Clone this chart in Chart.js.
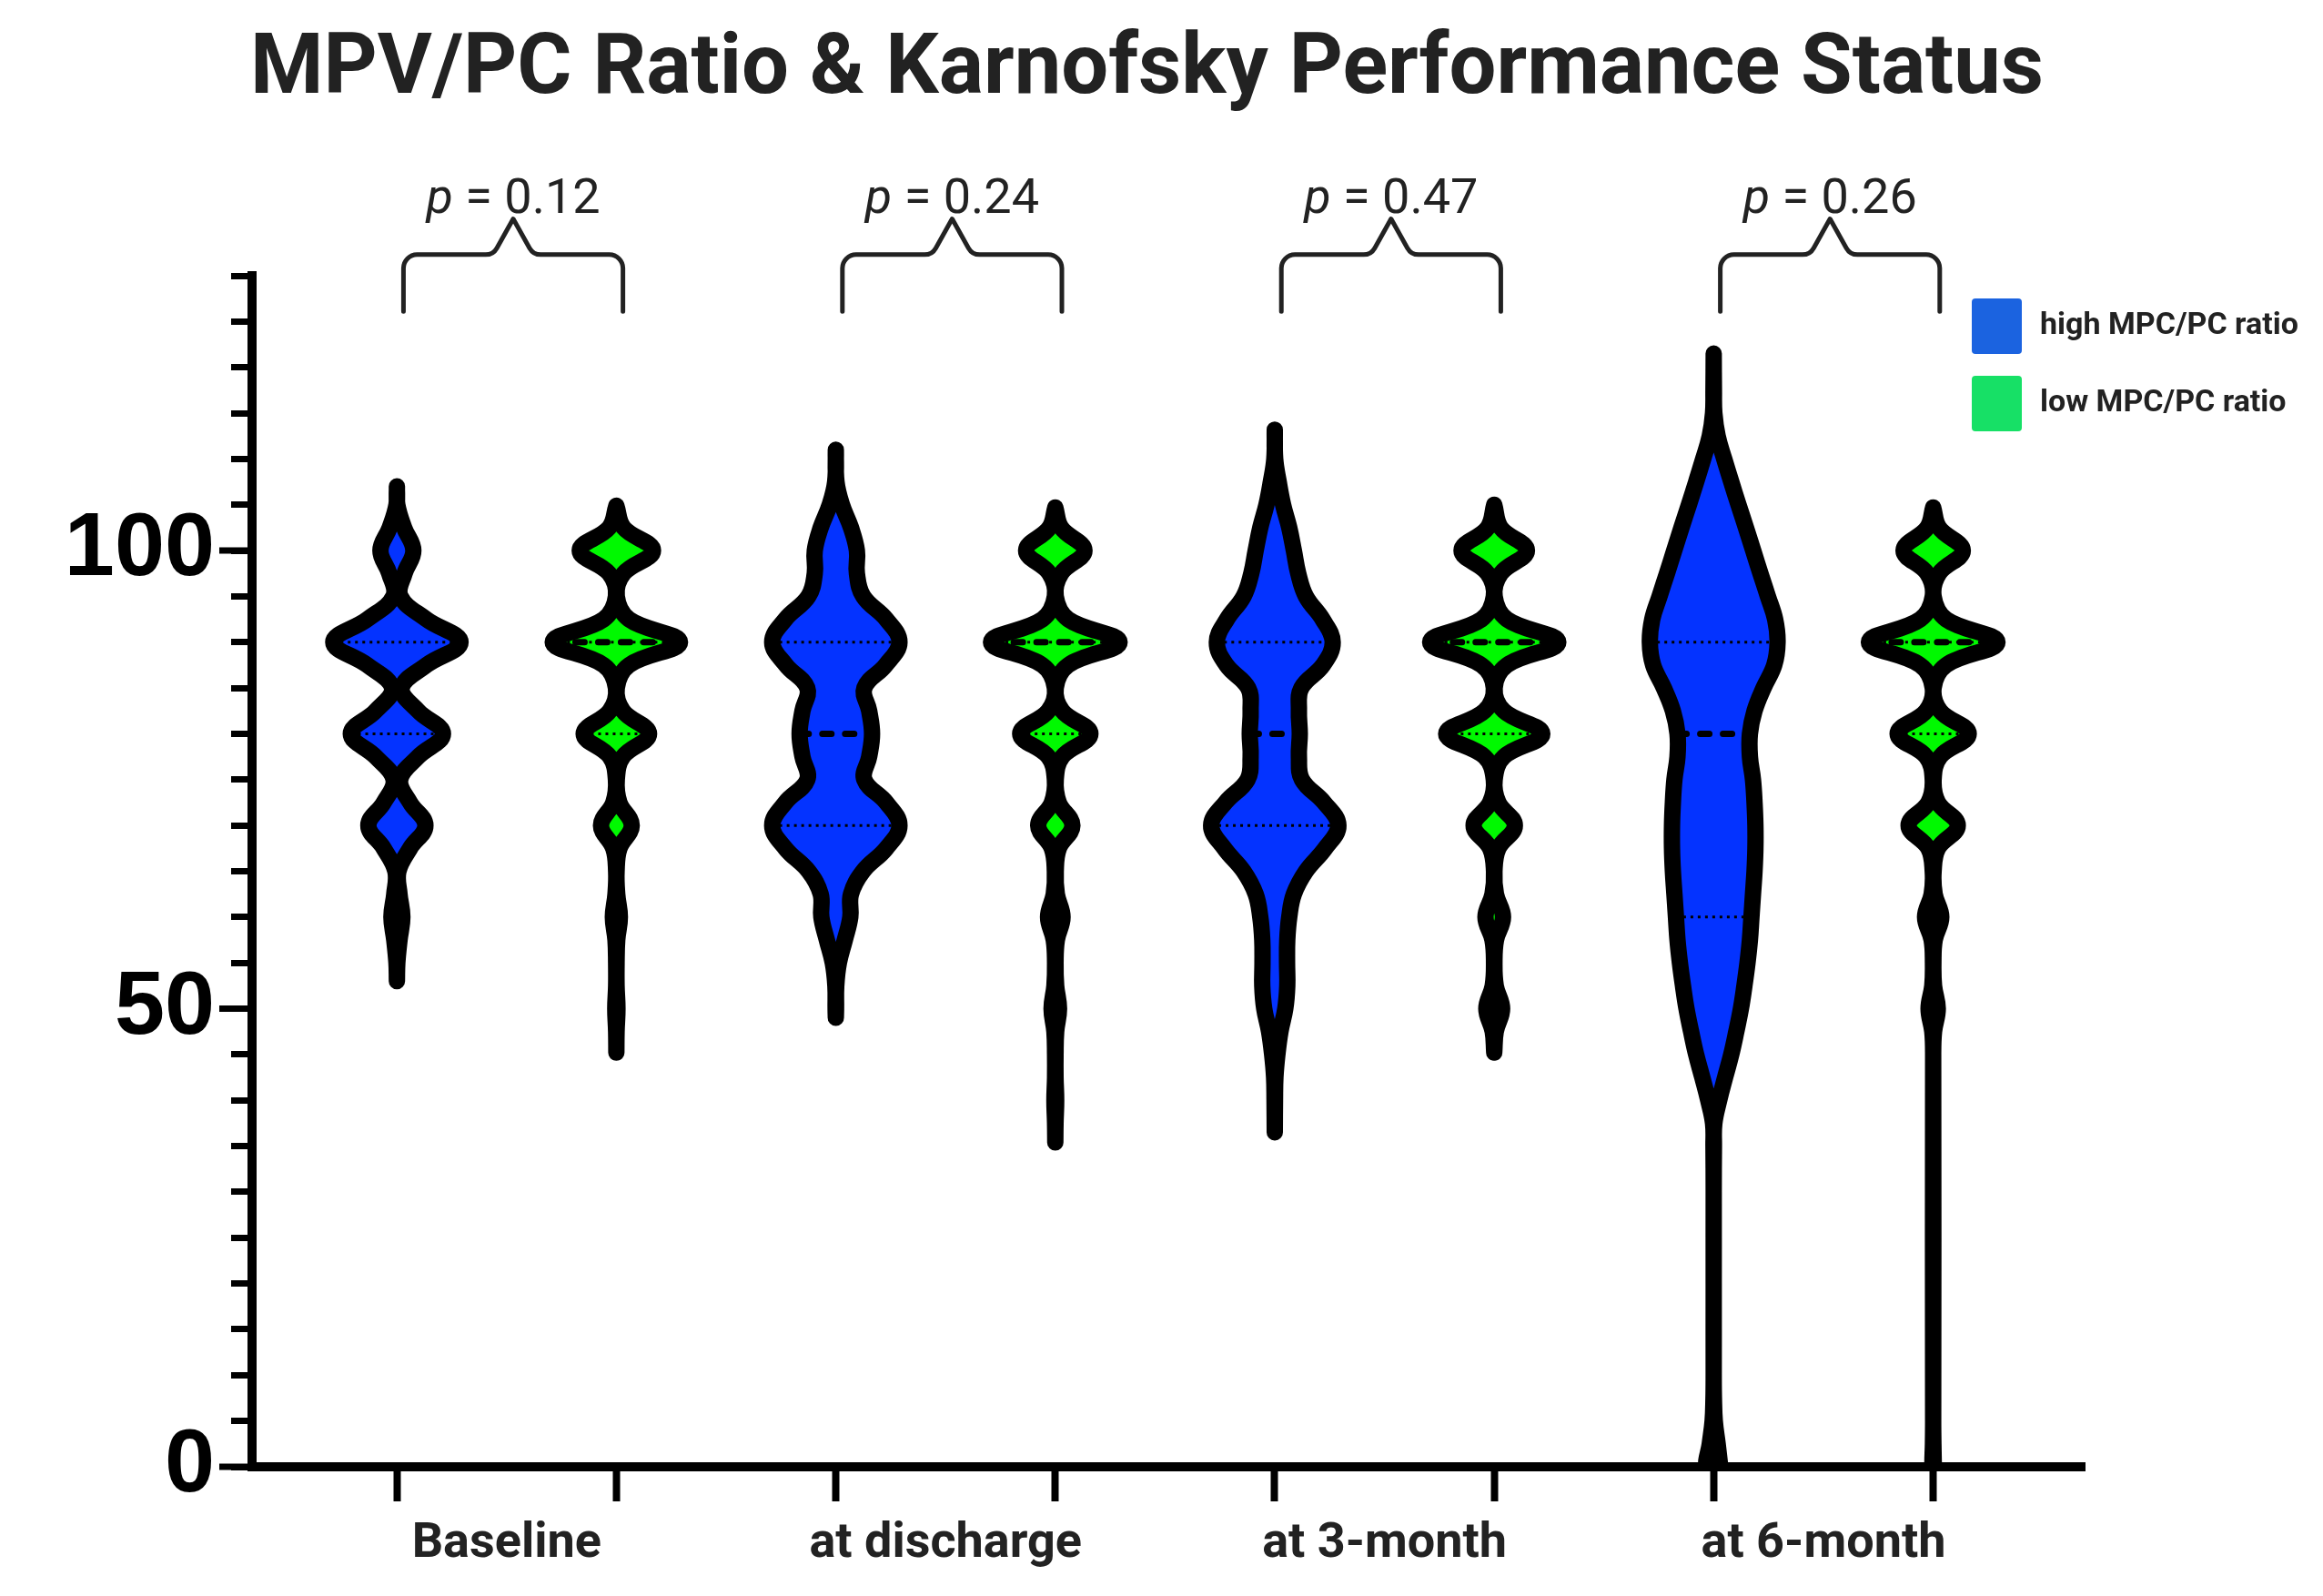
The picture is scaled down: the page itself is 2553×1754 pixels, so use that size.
<!DOCTYPE html>
<html>
<head>
<meta charset="utf-8">
<title>MPV/PC Ratio & Karnofsky Performance Status</title>
<script src="https://cdn.jsdelivr.net/npm/chart.js@4.4.0/dist/chart.umd.min.js"></script>
<style>
  html, body { margin: 0; padding: 0; background: #fff; }
  #chart { display: block; width: 2553px; height: 1754px; }
</style>
</head>
<body>
<canvas id="chart" width="2553" height="1754"></canvas>
<script>
// categories, series, tests
const groups = ['Baseline', 'at discharge', 'at 3-month', 'at 6-month'];
const seriesNames = ['high MPC/PC ratio', 'low MPC/PC ratio'];
const pValues = ['0.12', '0.24', '0.47', '0.26'];
const yLabelTicks = [0, 50, 100];

// violin outlines: KPS levels and half widths (category units)
const baselineHighY = [53, 55, 57.5, 60, 62.5, 65, 67.5, 70, 72.5, 75, 77.5, 80, 82.5, 85, 87.5, 90, 92.5, 95, 97.5, 100, 102.5, 105, 107];
const baselineHighW = [0, 0.002, 0.012, 0.025, 0.012, 0.007, 0.06, 0.13, 0.06, 0.015, 0.097, 0.21, 0.097, 0.022, 0.135, 0.29, 0.135, 0.016, 0.035, 0.075, 0.033, 0.002, 0];

const baselineLowY = [45.2, 47.5, 50, 52.5, 55, 57.5, 60, 62.5, 65, 67.5, 70, 72.5, 75, 77.5, 80, 82.5, 85, 87.5, 90, 92.5, 95, 97.5, 100, 102.5, 104.9];
const baselineLowW = [0, 0.001, 0.005, 0.001, 0.001, 0.004, 0.016, 0.004, 0.001, 0.014, 0.07, 0.014, 0.002, 0.03, 0.149, 0.03, 0.002, 0.058, 0.29, 0.058, 0.002, 0.033, 0.167, 0.033, 0];

const dischargeHighY = [49, 50, 52.5, 55, 57.5, 60, 62.5, 65, 67.5, 70, 72.5, 75, 77.5, 80, 82.5, 85, 87.5, 90, 92.5, 95, 97.5, 100, 102.5, 105, 107.5, 111];
const dischargeHighW = [0, 0.001, 0.002, 0.014, 0.041, 0.066, 0.069, 0.124, 0.23, 0.29, 0.23, 0.13, 0.152, 0.165, 0.152, 0.13, 0.227, 0.29, 0.23, 0.125, 0.096, 0.096, 0.069, 0.028, 0.003, 0];

const dischargeLowY = [35.4, 37.5, 40, 42.5, 45, 47.5, 50, 52.5, 55, 57.5, 60, 62.5, 65, 67.5, 70, 72.5, 75, 77.5, 80, 82.5, 85, 87.5, 90, 92.5, 95, 97.5, 100, 102.5, 104.7];
const dischargeLowW = [0, 0.001, 0.004, 0.001, 0.001, 0.004, 0.017, 0.004, 0.001, 0.007, 0.033, 0.007, 0.002, 0.016, 0.078, 0.016, 0.002, 0.032, 0.16, 0.032, 0.002, 0.059, 0.293, 0.059, 0.002, 0.027, 0.133, 0.027, 0];

const month3HighY = [36.5, 40, 42.5, 45, 47.5, 50, 52.5, 55, 57.5, 60, 62.5, 65, 67.5, 70, 72.5, 75, 77.5, 80, 82.5, 85, 87.5, 90, 92.5, 95, 97.5, 100, 102.5, 105, 107.5, 110, 113.2];
const month3HighW = [0, 0.001, 0.003, 0.012, 0.026, 0.048, 0.057, 0.056, 0.057, 0.066, 0.087, 0.142, 0.23, 0.29, 0.225, 0.124, 0.11, 0.114, 0.11, 0.121, 0.22, 0.264, 0.218, 0.142, 0.107, 0.087, 0.066, 0.038, 0.018, 0.002, 0];

const month3LowY = [45.2, 47.5, 50, 52.5, 55, 57.5, 60, 62.5, 65, 67.5, 70, 72.5, 75, 77.5, 80, 82.5, 85, 87.5, 90, 92.5, 95, 97.5, 100, 102.5, 105];
const month3LowW = [0, 0.007, 0.036, 0.007, 0.001, 0.008, 0.04, 0.008, 0.001, 0.019, 0.094, 0.019, 0.002, 0.044, 0.219, 0.044, 0.002, 0.058, 0.292, 0.058, 0.002, 0.03, 0.149, 0.03, 0];

const month6HighY = [0, 2.5, 5, 7.5, 10, 20, 30, 35, 37.5, 40, 42.5, 45, 47.5, 50, 52.5, 55, 57.5, 60, 62.5, 65, 67.5, 70, 72.5, 75, 77.5, 80, 82.5, 85, 87.5, 90, 92.5, 95, 97.5, 100, 102.5, 105, 107.5, 110, 112.5, 115, 117.5, 121.5];
const month6HighW = [0.03, 0.018, 0.005, 0.001, 0, 0, 0, 0.001, 0.003, 0.025, 0.052, 0.08, 0.103, 0.124, 0.14, 0.154, 0.165, 0.172, 0.179, 0.186, 0.19, 0.19, 0.186, 0.179, 0.165, 0.165, 0.186, 0.227, 0.276, 0.291, 0.28, 0.247, 0.213, 0.18, 0.147, 0.113, 0.08, 0.048, 0.018, 0.003, 0.001, 0];

const month6LowY = [0, 2.5, 5, 45, 47.5, 50, 52.5, 55, 57.5, 60, 62.5, 65, 67.5, 70, 72.5, 75, 77.5, 80, 82.5, 85, 87.5, 90, 92.5, 95, 97.5, 100, 102.5, 104.7];
const month6LowW = [0.003, 0.001, 0, 0, 0.004, 0.021, 0.004, 0.001, 0.007, 0.037, 0.007, 0.002, 0.022, 0.112, 0.022, 0.002, 0.032, 0.162, 0.032, 0.002, 0.059, 0.293, 0.059, 0.002, 0.027, 0.135, 0.027, 0];

// quartiles per violin (high, low, high, low ...)
const q1 = [80, 80, 70, 80, 70, 80, 60, 80];
const medians = [85, 90, 80, 90, 80, 90, 80, 90];
const q3 = [90, 90, 90, 90, 90, 90, 90, 90];

const violinY = [baselineHighY, baselineLowY, dischargeHighY, dischargeLowY, month3HighY, month3LowY, month6HighY, month6LowY];
const violinW = [baselineHighW, baselineLowW, dischargeHighW, dischargeLowW, month3HighW, month3LowW, month6HighW, month6LowW];

const fillColors = ['#0433ff', '#00f900'];
const legendColors = ['#1b63e0', '#17e066'];

function outline(center, ys, ws) {
    const right = ys.map((y, i) => ({x: center + ws[i], y: y}));
    const left = ys.map((y, i) => ({x: center - ws[i], y: y})).reverse();
    return right.concat(left, [right[0]]);
}

function widthAt(ys, ws, v) {
    for (let i = 1; i < ys.length; i++) {
        if (v <= ys[i]) {
            const t = (v - ys[i - 1]) / (ys[i] - ys[i - 1]);
            return ws[i - 1] + t * (ws[i] - ws[i - 1]);
        }
    }
    return 0;
}

const datasets = [];
violinY.forEach((ys, k) => {
    const center = k + 1;
    datasets.push({
        label: seriesNames[k % 2],
        data: outline(center, ys, violinW[k]),
        xAxisID: 'x', yAxisID: 'y',
        borderColor: '#000', borderWidth: 18,
        backgroundColor: fillColors[k % 2],
        fill: 'shape', tension: 0.4, pointRadius: 0,
        borderJoinStyle: 'round', borderCapStyle: 'round',
        order: 2
    });
    const lines = [[q1[k], false], [q3[k], false], [medians[k], true]];
    lines.forEach(([v, isMedian]) => {
        const w = widthAt(ys, violinW[k], v);
        datasets.push({
            label: 'quartile',
            data: [{x: center - w, y: v}, {x: center + w, y: v}],
            xAxisID: 'x', yAxisID: 'y',
            borderColor: '#000',
            borderWidth: isMedian ? 7 : 3,
            borderDash: isMedian ? [10, 15] : [3, 5],
            borderCapStyle: isMedian ? 'round' : 'butt',
            fill: false, pointRadius: 0, tension: 0,
            order: 1
        });
    });
});

const overlay = {
    id: 'overlay',
    afterDraw(chart) {
        const {ctx, chartArea} = chart;
        const x = chart.scales.x, y = chart.scales.y;
        ctx.save();

        // long ticks at the labelled values
        ctx.strokeStyle = '#000';
        ctx.lineWidth = 7;
        yLabelTicks.forEach(v => {
            const py = y.getPixelForValue(v);
            ctx.beginPath();
            ctx.moveTo(chartArea.left - 36, py);
            ctx.lineTo(chartArea.left, py);
            ctx.stroke();
        });

        // braces with p values
        ctx.strokeStyle = '#222';
        ctx.fillStyle = '#222';
        ctx.lineWidth = 5;
        ctx.lineCap = 'round';
        ctx.lineJoin = 'round';
        const yb = y.getPixelForValue(126.1);
        const yh = y.getPixelForValue(132.3);
        const yt = y.getPixelForValue(136.2);
        const yTxt = y.getPixelForValue(136.9);
        groups.forEach((g, i) => {
            const xl = x.getPixelForValue(2 * i + 1.03);
            const xr = x.getPixelForValue(2 * i + 2.03);
            const xm = (xl + xr) / 2;
            const r = 15;
            ctx.beginPath();
            ctx.moveTo(xl, yb);
            ctx.arcTo(xl, yh, xl + r, yh, r);
            ctx.lineTo(xm - 40, yh);
            ctx.arcTo(xm - 22, yh, xm, yt, 14);
            ctx.lineTo(xm, yt);
            ctx.arcTo(xm + 22, yh, xm + 40, yh, 14);
            ctx.lineTo(xr - r, yh);
            ctx.arcTo(xr, yh, xr, yh + r, r);
            ctx.lineTo(xr, yb);
            ctx.stroke();

            const fItal = 'italic 54px Roboto';
            const fReg = '54px Roboto';
            const rest = ' = ' + pValues[i];
            ctx.font = fItal;
            const wp = ctx.measureText('p').width;
            ctx.font = fReg;
            const wr = ctx.measureText(rest).width;
            const x0 = xm - (wp + wr) / 2;
            ctx.textBaseline = 'alphabetic';
            ctx.textAlign = 'left';
            ctx.font = fItal;
            ctx.fillText('p', x0, yTxt);
            ctx.font = fReg;
            ctx.fillText(rest, x0 + wp, yTxt);
        });

        // legend
        ctx.font = 'bold 34px Roboto';
        seriesNames.forEach((name, i) => {
            const bx = chartArea.right - 124;
            const by = chartArea.top + 25 + i * 85;
            ctx.fillStyle = legendColors[i];
            ctx.beginPath();
            ctx.roundRect(bx, by, 55, 61, 4);
            ctx.fill();
            ctx.fillStyle = '#222';
            ctx.fillText(name, chartArea.right - 49, by + 39);
        });
        ctx.restore();
    }
};

new Chart(document.getElementById('chart'), {
    type: 'line',
    data: {datasets: datasets},
    options: {
        responsive: false,
        animation: false,
        devicePixelRatio: 1,
        events: [],
        layout: {padding: {left: 0, right: 32, top: 0, bottom: 0}},
        plugins: {
            legend: {display: false},
            tooltip: {enabled: false},
            title: {
                display: true,
                text: 'MPV/PC Ratio & Karnofsky Performance Status',
                color: '#222',
                font: {family: 'Roboto', size: 92, weight: 'bold'},
                padding: {top: 24, bottom: 168.6}
            }
        },
        scales: {
            x: {
                type: 'linear', axis: 'x', position: 'bottom', min: 0.34, max: 8.69,
                afterBuildTicks: s => { s.ticks = violinY.map((_, k) => ({value: k + 1})); },
                afterFit: s => { s.height = 40; },
                ticks: {display: false, autoSkip: false},
                grid: {drawOnChartArea: false, tickLength: 38, tickWidth: 8, tickColor: '#000'},
                border: {color: '#000', width: 10}
            },
            xl: {
                type: 'linear', axis: 'x', position: 'bottom', weight: 1, min: 0.34, max: 8.69,
                afterBuildTicks: s => { s.ticks = groups.map((_, i) => ({value: 2 * i + 1.5})); },
                afterFit: s => { s.height = 102; },
                ticks: {
                    autoSkip: false, maxRotation: 0, padding: 13, color: '#222',
                    font: {family: 'Roboto', size: 54, weight: 'bold'},
                    callback: v => groups[Math.round((v - 1.5) / 2)]
                },
                grid: {display: false, drawTicks: false},
                border: {display: false}
            },
            y: {
                min: 0, max: 130,
                afterFit: s => { s.width = 277; },
                ticks: {
                    stepSize: 5, autoSkip: false, padding: 18, color: '#000',
                    font: {family: 'Liberation Sans', size: 99, weight: 'bold'},
                    callback: v => yLabelTicks.includes(v) ? v : ''
                },
                grid: {drawOnChartArea: false, tickLength: 23, tickWidth: 7, tickColor: '#000'},
                border: {color: '#000', width: 10}
            },
            // empty right margin, keeps the title centred on the page
            yr: {
                type: 'linear', axis: 'y', position: 'right', min: 0, max: 130,
                afterFit: s => { s.width = 230; },
                ticks: {display: false},
                grid: {display: false, drawTicks: false},
                border: {display: false}
            }
        }
    },
    plugins: [overlay]
});
</script>
</body>
</html>
